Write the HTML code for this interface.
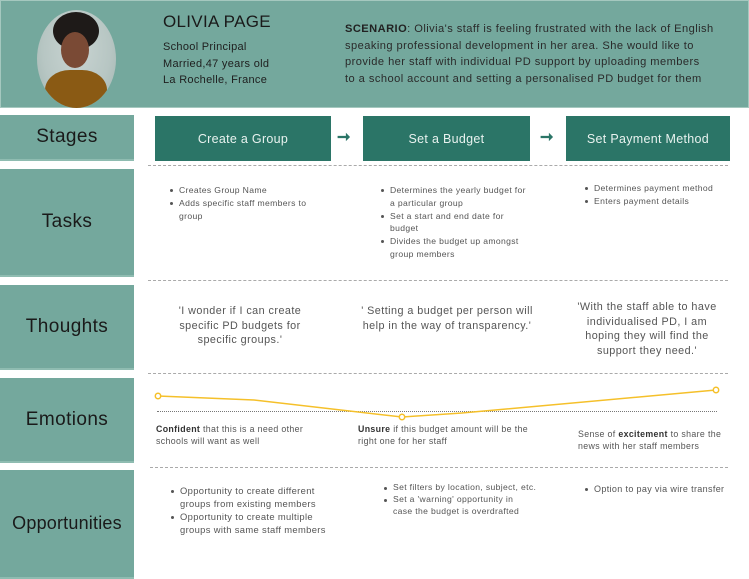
<!DOCTYPE html>
<html><head><meta charset="utf-8"><style>
*{margin:0;padding:0;box-sizing:border-box}
body{width:749px;height:579px;background:#fff;position:relative;overflow:hidden;font-family:"Liberation Sans",sans-serif;color:#555}
.a{position:absolute;white-space:nowrap}
.lab{position:absolute;left:0;width:134px;background:#74a89d;color:#1a1a1a;font-size:19px;letter-spacing:.4px;display:flex;align-items:center;justify-content:center;border-bottom:2px solid #8fbcb1}
.st{position:absolute;height:45px;background:#2b7567;color:#e8f2ef;font-size:12.5px;letter-spacing:.3px;display:flex;align-items:center;justify-content:center;top:116px}
.dl{position:absolute;border-top:1px dashed #aaa;height:0}
ul{list-style:none}
li{position:relative;padding-left:10px}
li:before{content:"";position:absolute;left:1px;top:5px;width:3px;height:3px;border-radius:50%;background:#555}
.t{font-size:8.6px;line-height:12.8px;color:#555;letter-spacing:.35px}
.th{font-size:10.8px;line-height:14.5px;text-align:center;color:#555;letter-spacing:.45px}
.em{font-size:8.8px;line-height:12px;color:#555;letter-spacing:.35px}
.op{font-size:9.4px;line-height:13px;color:#555;letter-spacing:.35px}
.op li:before{top:5.5px}
b{color:#333}
</style></head><body>
<div class="a" style="left:0;top:0;width:749px;height:108px;background:#74a89d;border:1px solid #a5c8bf"></div>
<div class="a" style="left:37px;top:10px;width:79px;height:98px;border-radius:50%;background:radial-gradient(ellipse at 50% 40%,#c9d4d2 0%,#b7c6c3 60%,#9fb3ae 100%);overflow:hidden">
 <div class="a" style="left:16px;top:2px;width:46px;height:38px;border-radius:50%;background:#1e1a18"></div>
 <div class="a" style="left:24px;top:22px;width:28px;height:36px;border-radius:50%;background:#7a4a35"></div>
 <div class="a" style="left:8px;top:60px;width:62px;height:50px;border-radius:40% 40% 0 0;background:#8a5a14"></div>
</div>
<div class="a" style="left:163px;top:12px;font-size:17px;color:#1a1a1a;letter-spacing:.3px">OLIVIA PAGE</div>
<div class="a" style="left:163px;top:39px;font-size:11px;line-height:16.5px;color:#1e1e1e;letter-spacing:.3px">School Principal<br>Married,47 years old<br>La Rochelle, France</div>
<div class="a" style="left:345px;top:21px;font-size:11.1px;line-height:16.5px;color:#2a2a2a;letter-spacing:.45px"><b style="color:#222">SCENARIO</b>: Olivia's staff is feeling frustrated with the lack of English<br>speaking professional development in her area. She would like to<br>provide her staff with individual PD support by uploading members<br>to a school account and setting a personalised PD budget for them</div>

<div class="lab" style="top:115px;height:46px">Stages</div>
<div class="lab" style="top:169px;height:108px">Tasks</div>
<div class="lab" style="top:285px;height:85px">Thoughts</div>
<div class="lab" style="top:378px;height:85px">Emotions</div>
<div class="lab" style="top:470px;height:109px;font-size:18px;letter-spacing:.2px">Opportunities</div>

<div class="st" style="left:155px;width:176px">Create a Group</div>
<div class="st" style="left:363px;width:167px">Set a Budget</div>
<div class="st" style="left:566px;width:164px">Set Payment Method</div>
<div class="a" style="left:337px;top:127px;font-size:16px;color:#2b7567;font-weight:bold">&#10142;</div>
<div class="a" style="left:540px;top:127px;font-size:16px;color:#2b7567;font-weight:bold">&#10142;</div>

<div class="dl" style="left:148px;top:165px;width:580px"></div>
<div class="dl" style="left:148px;top:280px;width:580px"></div>
<div class="dl" style="left:148px;top:373px;width:580px"></div>
<div class="dl" style="left:157px;top:411px;width:560px;border-top:1px dotted #777"></div>
<div class="dl" style="left:150px;top:467px;width:578px"></div>

<ul class="a t" style="left:169px;top:184px"><li>Creates Group Name</li><li>Adds specific staff members to<br>group</li></ul>
<ul class="a t" style="left:380px;top:184px"><li>Determines the yearly budget for<br>a particular group</li><li>Set a start and end date for<br>budget</li><li>Divides the budget up amongst<br>group members</li></ul>
<ul class="a t" style="left:584px;top:182px"><li>Determines payment method</li><li>Enters payment details</li></ul>

<div class="a th" style="left:170px;top:304px;width:140px">'I wonder if I can create<br>specific PD budgets for<br>specific groups.'</div>
<div class="a th" style="left:352px;top:304px;width:190px">' Setting a budget per person will<br>help in the way of transparency.'</div>
<div class="a th" style="left:567px;top:300px;width:160px">'With the staff able to have<br>individualised PD, I am<br>hoping they will find the<br>support they need.'</div>

<svg class="a" style="left:0;top:0" width="749" height="579">
<polyline points="158,396 254,400 402,417 462,413 716,390" fill="none" stroke="#f5c02a" stroke-width="1.5"/>
<circle cx="158" cy="396" r="2.7" fill="#fff" stroke="#f5c02a" stroke-width="1.5"/>
<circle cx="402" cy="417" r="2.7" fill="#fff" stroke="#f5c02a" stroke-width="1.5"/>
<circle cx="716" cy="390" r="2.7" fill="#fff" stroke="#f5c02a" stroke-width="1.5"/>
</svg>

<div class="a em" style="left:156px;top:423px"><b>Confident</b> that this is a need other<br>schools will want as well</div>
<div class="a em" style="left:358px;top:423px"><b>Unsure</b> if this budget amount will be the<br>right one for her staff</div>
<div class="a em" style="left:578px;top:428px">Sense of <b>excitement</b> to share the<br>news with her staff members</div>

<ul class="a op" style="left:170px;top:484px"><li>Opportunity to create different<br>groups from existing members</li><li>Opportunity to create multiple<br>groups with same staff members</li></ul>
<ul class="a t" style="left:383px;top:482px;line-height:11.8px"><li>Set filters by location, subject, etc.</li><li>Set a 'warning' opportunity in<br>case the budget is overdrafted</li></ul>
<ul class="a t" style="left:584px;top:483px;font-size:9px"><li>Option to pay via wire transfer</li></ul>
</body></html>
